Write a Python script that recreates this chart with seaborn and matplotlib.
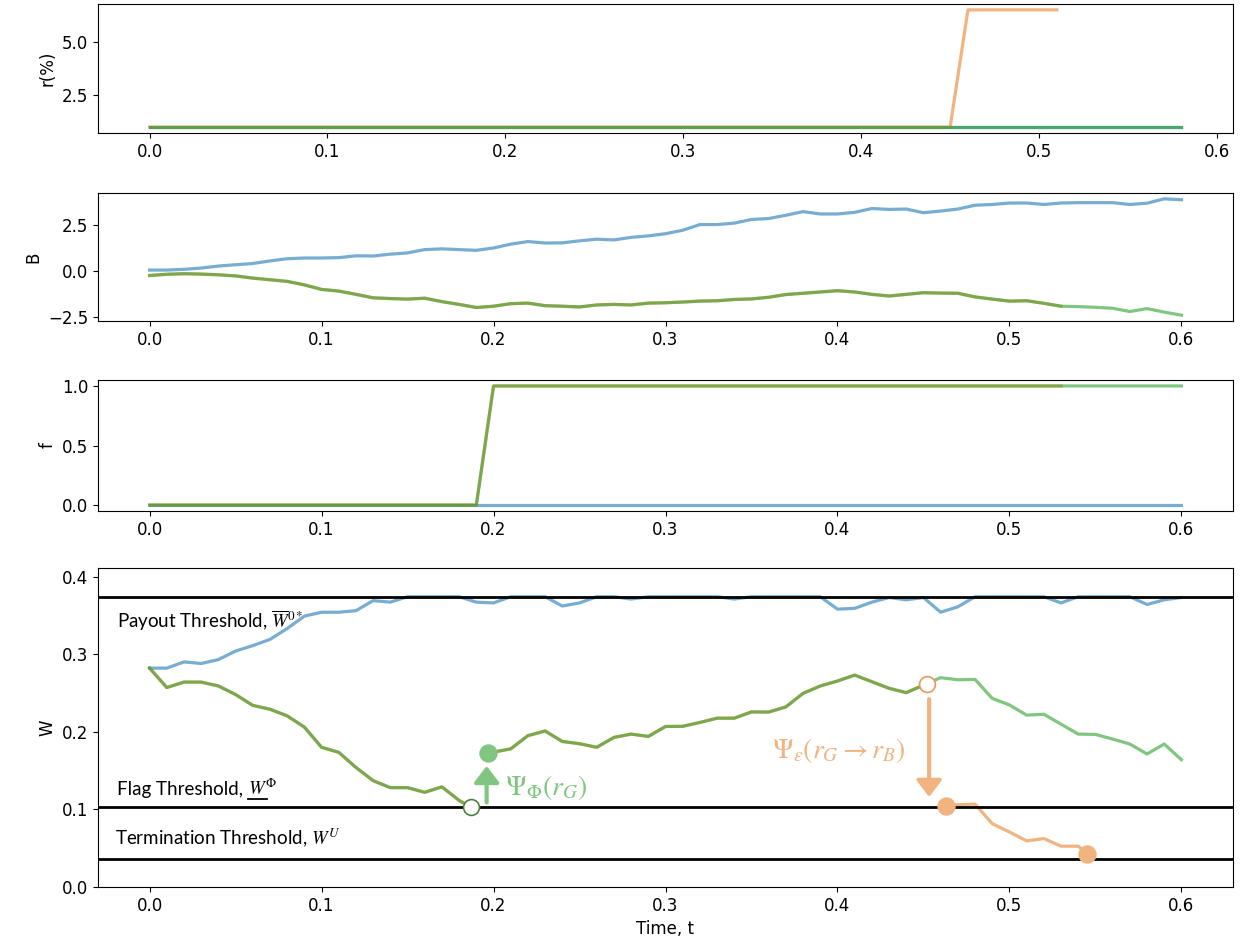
import numpy as np
import matplotlib
matplotlib.use('Agg')
import matplotlib.pyplot as plt
import seaborn as sns
from matplotlib.lines import Line2D
from matplotlib.transforms import IdentityTransform

plt.rcParams['font.family'] = ['DejaVu Sans']
plt.rcParams['mathtext.fontset'] = 'stix'

# time grid (step 0.01)
time = np.round(np.arange(0, 0.605, 0.01), 2)

# interest rate r(%)
r_time = time[:59]
r_good = [1.0] * 59
r_bad_time = time[:52]
r_bad = [1.0] * 46 + [6.5] * 6

# B
b_blue = [0.05, 0.05, 0.09, 0.16, 0.27, 0.34, 0.41, 0.55, 0.67, 0.71,
          0.71, 0.73, 0.83, 0.82, 0.92, 0.99, 1.17, 1.21, 1.17, 1.13,
          1.26, 1.47, 1.61, 1.53, 1.54, 1.65, 1.74, 1.70, 1.84, 1.92,
          2.04, 2.23, 2.54, 2.54, 2.62, 2.82, 2.87, 3.05, 3.25, 3.12,
          3.12, 3.21, 3.42, 3.37, 3.39, 3.19, 3.28, 3.39, 3.60, 3.64,
          3.72, 3.72, 3.64, 3.72, 3.74, 3.74, 3.74, 3.64, 3.71, 3.95,
          3.90]
b_green = [-0.25, -0.18, -0.15, -0.17, -0.21, -0.27, -0.39, -0.48, -0.57, -0.76,
           -1.01, -1.10, -1.28, -1.47, -1.51, -1.54, -1.49, -1.68, -1.83, -2.00,
           -1.93, -1.79, -1.76, -1.90, -1.93, -1.97, -1.86, -1.83, -1.86, -1.76,
           -1.74, -1.70, -1.65, -1.63, -1.56, -1.53, -1.44, -1.29, -1.22, -1.15,
           -1.08, -1.15, -1.28, -1.37, -1.28, -1.19, -1.21, -1.22, -1.42, -1.54,
           -1.65, -1.63, -1.77, -1.93, -1.95, -1.99, -2.04, -2.22, -2.06, -2.25,
           -2.42]
b_orange_n = 54  # orange path shares B up to t=0.53

# flag f
f_blue = [0] * 61
f_green = [0] * 20 + [1] * 41
f_orange_n = 54

# W
w_blue = [0.282, 0.282, 0.290, 0.288, 0.293, 0.304, 0.311, 0.319, 0.333, 0.349,
          0.354, 0.354, 0.356, 0.369, 0.367, 0.374, 0.374, 0.374, 0.374, 0.367,
          0.366, 0.374, 0.374, 0.374, 0.362, 0.366, 0.374, 0.374, 0.371, 0.374,
          0.374, 0.374, 0.374, 0.374, 0.371, 0.374, 0.374, 0.374, 0.374, 0.374,
          0.358, 0.359, 0.367, 0.373, 0.370, 0.373, 0.354, 0.361, 0.374, 0.374,
          0.374, 0.374, 0.374, 0.366, 0.374, 0.374, 0.374, 0.374, 0.364, 0.370,
          0.373]
w_pre_time = [0.00, 0.01, 0.02, 0.03, 0.04, 0.05, 0.06, 0.07, 0.08, 0.09,
              0.10, 0.11, 0.12, 0.13, 0.14, 0.15, 0.16, 0.17, 0.18, 0.187]
w_pre = [0.282, 0.257, 0.264, 0.264, 0.259, 0.248, 0.234, 0.229, 0.2205, 0.206,
         0.180, 0.1735, 0.154, 0.137, 0.128, 0.128, 0.122, 0.129, 0.1115, 0.1026]
w_mid_time = [0.197, 0.21, 0.22, 0.23, 0.24, 0.25, 0.26, 0.27, 0.28, 0.29,
              0.30, 0.31, 0.32, 0.33, 0.34, 0.35, 0.36, 0.37, 0.38, 0.39,
              0.40, 0.41, 0.42, 0.43, 0.44, 0.452]
w_mid = [0.1725, 0.178, 0.195, 0.201, 0.1875, 0.1846, 0.180, 0.1927, 0.197, 0.194,
         0.2068, 0.207, 0.212, 0.2175, 0.2175, 0.2256, 0.2254, 0.232, 0.2495, 0.259,
         0.2654, 0.273, 0.2645, 0.256, 0.2504, 0.262]
w_good_time = [0.452, 0.46, 0.47, 0.48, 0.49, 0.50, 0.51, 0.52, 0.53, 0.54,
               0.55, 0.56, 0.57, 0.58, 0.59, 0.60]
w_good = [0.262, 0.2697, 0.267, 0.2675, 0.243, 0.2346, 0.2214, 0.2226, 0.2098, 0.197,
          0.1966, 0.1906, 0.1842, 0.1714, 0.1842, 0.164]
w_bad_time = [0.463, 0.47, 0.48, 0.49, 0.50, 0.51, 0.52, 0.53, 0.54, 0.545]
w_bad = [0.105, 0.106, 0.1068, 0.0816, 0.0709, 0.0594, 0.0624, 0.0526, 0.0526, 0.043]

payout, flag, term = 0.374, 0.1026, 0.036

BLUE, GREEN, ORANGE = '#1f77b4', '#2ca02c', '#e8812a'
A = 0.6
LW = 2.3
green_soft = '#80c680'
orange_soft = '#f1b37f'

fig = plt.figure(figsize=(12.46, 9.5), dpi=100)
W, H = 1246, 950


def box(top, bottom, left=98, right=1233):
    return [left / W, 1 - bottom / H, (right - left) / W, (bottom - top) / H]


ax1 = fig.add_axes(box(4, 133))
ax2 = fig.add_axes(box(193, 321))
ax3 = fig.add_axes(box(380, 511))
ax4 = fig.add_axes(box(568, 887))

kw = dict(alpha=A, lw=LW, estimator=None, sort=False, legend=False)

# r panel
sns.lineplot(x=r_time, y=r_good, ax=ax1, color=BLUE, **kw)
sns.lineplot(x=r_bad_time, y=r_bad, ax=ax1, color=ORANGE, **kw)
sns.lineplot(x=r_time, y=r_good, ax=ax1, color=GREEN, **kw)
ax1.set_ylabel('r(%)')
ax1.set_yticks([2.5, 5.0])

# B panel
sns.lineplot(x=time, y=b_blue, ax=ax2, color=BLUE, **kw)
sns.lineplot(x=time[:b_orange_n], y=b_green[:b_orange_n], ax=ax2, color=ORANGE, **kw)
sns.lineplot(x=time, y=b_green, ax=ax2, color=GREEN, **kw)
ax2.set_ylabel('B')
ax2.set_yticks([-2.5, 0.0, 2.5])

# f panel
sns.lineplot(x=time, y=f_blue, ax=ax3, color=BLUE, **kw)
sns.lineplot(x=time[:f_orange_n], y=f_green[:f_orange_n], ax=ax3, color=ORANGE, **kw)
sns.lineplot(x=time, y=f_green, ax=ax3, color=GREEN, **kw)
ax3.set_ylabel('f')
ax3.set_yticks([0.0, 0.5, 1.0])

# W panel
sns.lineplot(x=time, y=w_blue, ax=ax4, color=BLUE, **kw)
for tt, ww in [(w_pre_time, w_pre), (w_mid_time, w_mid), (w_bad_time, w_bad)]:
    sns.lineplot(x=tt, y=ww, ax=ax4, color=ORANGE, **kw)
for tt, ww in [(w_pre_time, w_pre), (w_mid_time, w_mid), (w_good_time, w_good)]:
    sns.lineplot(x=tt, y=ww, ax=ax4, color=GREEN, **kw)

for lvl in (payout, flag, term):
    ax4.axhline(lvl, color='black', lw=2, zorder=3)

# event markers
sns.scatterplot(x=[w_pre_time[-1]], y=[w_pre[-1]], ax=ax4, s=130, color='white',
                edgecolor='#4f7f3f', linewidth=1.2, zorder=6)
sns.scatterplot(x=[w_mid_time[0]], y=[w_mid[0]], ax=ax4, s=150, color=green_soft,
                edgecolor=green_soft, zorder=6)
sns.scatterplot(x=[w_mid_time[-1]], y=[w_mid[-1]], ax=ax4, s=130, color='white',
                edgecolor='#e8995a', linewidth=1.2, zorder=6)
sns.scatterplot(x=[w_bad_time[0], w_bad_time[-1]], y=[w_bad[0], w_bad[-1]], ax=ax4,
                s=150, color=orange_soft, edgecolor=orange_soft, zorder=6)

arrow = '-|>,head_width=0.42,head_length=0.55'
ax4.annotate('', xy=(0.196, 0.156), xytext=(0.196, 0.109),
             arrowprops=dict(arrowstyle=arrow, color=green_soft, lw=3,
                             mutation_scale=18, shrinkA=0, shrinkB=0), zorder=6)
ax4.annotate('', xy=(0.4533, 0.116), xytext=(0.4533, 0.242),
             arrowprops=dict(arrowstyle=arrow, color=orange_soft, lw=3,
                             mutation_scale=18, shrinkA=0, shrinkB=0), zorder=6)

lbl = dict(family=['Lato', 'DejaVu Sans'], fontsize=13.5, va='baseline', ha='left')
ax4.text(-0.019, 0.334, r'Payout Threshold, $\overline{W}^{0*}$', **lbl)
ax4.text(-0.020, 0.055, r'Termination Threshold, $W^{U}$', **lbl)
ax4.text(0.2066, 0.118, r'$\Psi_{\Phi}(r_G)$', color=green_soft, fontsize=20,
         va='baseline', ha='left')
ax4.text(0.362, 0.1667, r'$\Psi_{\epsilon}(r_G \rightarrow r_B)$', color=orange_soft,
         fontsize=20, va='baseline', ha='left')

ax4.set_ylim(0, 0.411)
ax4.set_yticks([0.0, 0.1, 0.2, 0.3, 0.4])
ax4.set_ylabel('W')
ax4.set_xlabel('Time, t')

for ax in (ax1, ax2, ax3, ax4):
    ax.tick_params(labelsize=12)
    ax.yaxis.label.set_size(12)
    ax.xaxis.label.set_size(12)
    ax.set_xticks([0.0, 0.1, 0.2, 0.3, 0.4, 0.5, 0.6])
ax1.set_xlim(-0.029, 0.609)
for ax in (ax2, ax3, ax4):
    ax.set_xlim(-0.03, 0.63)

# flag label: mathtext has no \underline, so underline the W by hand
renderer = fig.canvas.get_renderer()
fx, fy = -0.019, 0.118
t_flag = ax4.text(fx, fy, 'Flag Threshold, ', **lbl)
w_flag = t_flag.get_window_extent(renderer).width
ax4.annotate(r'$W^{\Phi}$', xy=(fx, fy), xytext=(w_flag, 0), textcoords='offset pixels',
             fontsize=13.5, va='baseline', ha='left')
tmp = ax4.text(0, 0, r'$W$', fontsize=13.5)
w_w = tmp.get_window_extent(renderer).width
tmp.remove()
bx, by = ax4.transData.transform((fx, fy))
fig.add_artist(Line2D([bx + w_flag, bx + w_flag + w_w], [by - 4, by - 4],
                      transform=IdentityTransform(), color='black', lw=1.3))

fig.savefig('out.png', dpi=100)
